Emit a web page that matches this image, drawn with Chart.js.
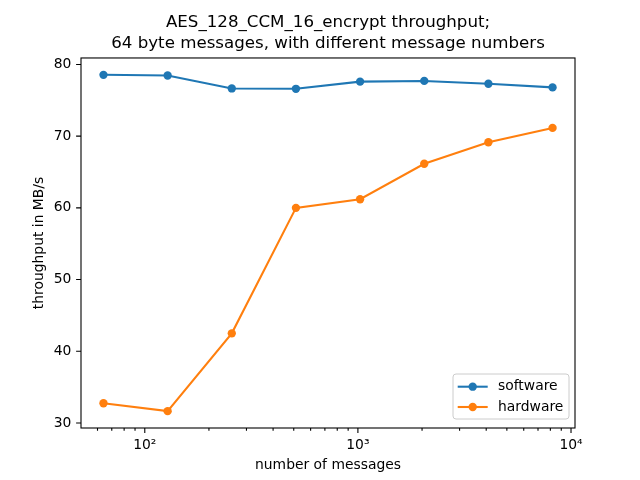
<!DOCTYPE html>
<html><head><meta charset="utf-8">
<script src="https://cdn.jsdelivr.net/npm/chart.js@4/dist/chart.umd.min.js"></script>
<style>html,body{margin:0;padding:0;background:#fff}#wrap{width:640px;height:480px;position:relative}</style>
</head><body><div id="wrap"><canvas id="c" width="640" height="480"></canvas></div>
<script>
const messageCounts = [64, 128, 256, 512, 1024, 2048, 4096, 8192];
const softwareThroughput = [78.55, 78.45, 76.65, 76.6, 77.6, 77.7, 77.3, 76.8];
const hardwareThroughput = [32.75, 31.65, 42.5, 60.0, 61.2, 66.15, 69.15, 71.15];
const seriesNames = ['software', 'hardware'];
const seriesColors = ['#1f77b4', '#ff7f0e'];
const yTickValues = [30, 40, 50, 60, 70, 80];
const xLabelValues = [100, 1000, 10000];
const xLabelTexts = ['10\u00B2', '10\u00B3', '10\u2074'];
const titleLines = ['AES_128_CCM_16_encrypt throughput;', '64 byte messages, with different message numbers'];
const xAxisTitle = 'number of messages';
const yAxisTitle = 'throughput in MB/s';

const FONT = "'DejaVu Sans', sans-serif";
const FS = 13.89;

function toPoints(xs, ys) { return xs.map((x, i) => ({x: x, y: ys[i]})); }

const centerTitle = {
  id: 'centerTitle',
  afterLayout(chart) {
    const tb = chart.titleBlock, a = chart.chartArea;
    if (tb) { tb.left = a.left; tb.right = a.right; tb.width = a.right - a.left; }
  }
};

const frameAndTicks = {
  id: 'frameAndTicks',
  afterDatasetsDraw(chart) {
    const ctx = chart.ctx, a = chart.chartArea;
    const xs = chart.scales.x, ys = chart.scales.y;
    ctx.save();
    ctx.strokeStyle = '#000';
    ctx.lineWidth = 1.1;
    ctx.strokeRect(a.left, a.top, a.right - a.left, a.bottom - a.top);
    ctx.beginPath();
    xs.ticks.forEach(t => {
      const px = xs.getPixelForValue(t.value);
      if (px < a.left - 0.5 || px > a.right + 0.5) return;
      const major = xLabelValues.includes(t.value);
      ctx.moveTo(px, a.bottom);
      ctx.lineTo(px, a.bottom + (major ? 4.9 : 2.8));
    });
    ys.ticks.forEach(t => {
      const py = ys.getPixelForValue(t.value);
      ctx.moveTo(a.left, py);
      ctx.lineTo(a.left - 4.9, py);
    });
    ctx.stroke();
    ctx.restore();
  }
};

const innerLegend = {
  id: 'innerLegend',
  afterDraw(chart) {
    const ctx = chart.ctx, a = chart.chartArea;
    const w = 116, h = 45;
    const x0 = a.right - 6 - w, y0 = a.bottom - 9 - h;
    ctx.save();
    ctx.beginPath();
    ctx.roundRect(x0, y0, w, h, 3);
    ctx.fillStyle = 'rgba(255,255,255,0.8)';
    ctx.fill();
    ctx.strokeStyle = '#cccccc';
    ctx.lineWidth = 1;
    ctx.stroke();
    const rows = [12.7, 33];
    chart.data.datasets.forEach((ds, i) => {
      const cy = y0 + rows[i];
      ctx.strokeStyle = ds.borderColor;
      ctx.lineWidth = 2.08;
      ctx.beginPath();
      ctx.moveTo(x0 + 4.7, cy);
      ctx.lineTo(x0 + 34.7, cy);
      ctx.stroke();
      ctx.fillStyle = ds.backgroundColor;
      ctx.beginPath();
      ctx.arc(x0 + 19.7, cy, 4.17, 0, Math.PI * 2);
      ctx.fill();
      ctx.fillStyle = '#000';
      ctx.font = FS + 'px ' + FONT;
      ctx.textBaseline = 'middle';
      ctx.textAlign = 'left';
      ctx.fillText(ds.label, x0 + 45, cy);
    });
    ctx.restore();
  }
};

const datasets = [softwareThroughput, hardwareThroughput].map((vals, i) => ({
  label: seriesNames[i],
  data: toPoints(messageCounts, vals),
  borderColor: seriesColors[i],
  backgroundColor: seriesColors[i],
  borderWidth: 2.08,
  pointRadius: 4.17,
  pointHoverRadius: 4.17,
  pointBorderWidth: 0,
  tension: 0,
  clip: false
}));

new Chart(document.getElementById('c'), {
  type: 'line',
  data: {datasets: datasets},
  options: {
    responsive: false,
    animation: false,
    devicePixelRatio: 1,
    layout: {padding: {left: 0, right: 65, top: 0, bottom: 0}},
    plugins: {
      legend: {display: false},
      tooltip: {enabled: false},
      title: {
        display: true,
        text: titleLines,
        color: '#000',
        font: {family: FONT, size: 16.67, weight: 'normal', lineHeight: 1.25},
        padding: {top: 12.3, bottom: 4.0}
      }
    },
    scales: {
      x: {
        type: 'logarithmic',
        min: 50.2,
        max: 10440,
        grid: {display: false, drawTicks: false},
        border: {display: false},
        afterBuildTicks(scale) {
          const t = [];
          [10, 100, 1000, 10000].forEach(d => {
            for (let k = 1; k <= 9; k++) {
              const v = k * d;
              if (v >= scale.min && v <= scale.max) t.push({value: v});
            }
          });
          scale.ticks = t;
        },
        afterFit(scale) { scale.height = 52; },
        ticks: {
          autoSkip: false,
          maxRotation: 0,
          color: '#000',
          padding: 9,
          font: {family: FONT, size: FS},
          callback(value) {
            const i = xLabelValues.indexOf(value);
            return i >= 0 ? xLabelTexts[i] : '';
          }
        },
        title: {
          display: true,
          text: xAxisTitle,
          color: '#000',
          font: {family: FONT, size: FS, lineHeight: 1.2},
          padding: {top: 0, bottom: 6.2}
        }
      },
      y: {
        type: 'linear',
        min: 29.3,
        max: 80.9,
        grid: {display: false, drawTicks: false},
        border: {display: false},
        afterBuildTicks(scale) { scale.ticks = yTickValues.map(v => ({value: v})); },
        afterFit(scale) { scale.width = 81; },
        ticks: {
          color: '#000',
          padding: 9.7,
          font: {family: FONT, size: FS},
          callback(value) { return String(value); }
        },
        title: {
          display: true,
          text: yAxisTitle,
          color: '#000',
          font: {family: FONT, size: FS, lineHeight: 1.2},
          padding: {top: 30.7, bottom: 0}
        }
      }
    }
  },
  plugins: [centerTitle, frameAndTicks, innerLegend]
});
</script>
</body></html>
